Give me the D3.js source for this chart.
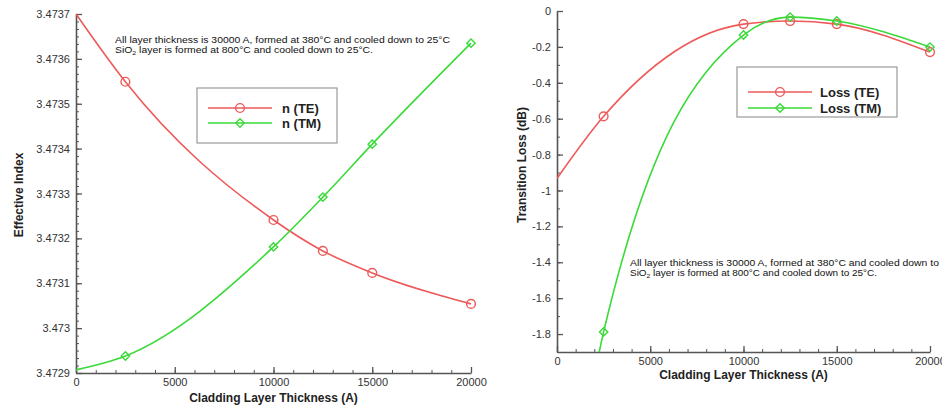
<!DOCTYPE html>
<html>
<head>
<meta charset="utf-8">
<script src="https://cdn.jsdelivr.net/npm/d3@7"></script>
<style>
  body { margin: 0; background: #fff; }
  svg { display: block; font-family: "Liberation Sans", Arial, sans-serif; }
  .tick text { fill: #333; font-size: 11px; }
  .axis path, .axis line { stroke: #555; }
  .title { font-weight: bold; font-size: 12px; fill: #222; }
  .legend text { font-weight: bold; font-size: 13px; fill: #222; }
  .note { font-size: 9px; fill: #111; }
</style>
</head>
<body>
<div id="graph"></div>
<script>
const svgw = 942
const svgh = 406
const red = '#ee5a5a'
const green = '#3ada3a'

// cladding thickness (A)
const thickness = [0, 2500, 10000, 12500, 15000, 20000]

// left panel: effective index
const nTE = [3.47370, 3.473549, 3.473241, 3.473172, 3.473123, 3.473054]
const nTM = [3.472907, 3.472938, 3.473181, 3.473292, 3.473410, 3.473635]

// right panel: transition loss (dB)
const lossTE = [-0.933, -0.587, -0.073, -0.056, -0.073, -0.229]
const lossTM = [-3.5, -1.788, -0.134, -0.034, -0.056, -0.201]

const markerAt = [2500, 10000, 12500, 15000, 20000]

const leftYTicks = [3.4729, 3.473, 3.4731, 3.4732, 3.4733, 3.4734, 3.4735, 3.4736, 3.4737]
const rightYTicks = [0, -0.2, -0.4, -0.6, -0.8, -1, -1.2, -1.4, -1.6, -1.8]
const xTicks = [0, 5000, 10000, 15000, 20000]

const noteLine1 = 'All layer thickness is 30000 A, formed at 380°C and cooled down to 25°C'

const svg = d3.select('#graph')
    .append('svg')
    .attr('width', svgw)
    .attr('height', svgh)

const defs = svg.append('defs')
defs.append('clipPath').attr('id', 'clipR')
    .append('rect').attr('x', 557).attr('y', 0).attr('width', 385).attr('height', 352)

function drawAxes(xScale, yScale, yTicks, yMinorStep, yFmt, xLabelY) {
    const yr = yScale.domain()
    const minorY = d3.range(Math.round((yr[1] - yr[0]) / yMinorStep) + 1).map(i => yr[0] + i * yMinorStep)
    const minorX = d3.range(0, 20001, 1000)

    svg.append('g').attr('class', 'axis')
        .attr('transform', `translate(${xScale(0)},0)`)
        .call(d3.axisLeft(yScale).tickValues(minorY).tickSize(-3).tickSizeOuter(0).tickFormat(''))
        .select('.domain').remove()
    const ya = svg.append('g').attr('class', 'axis')
        .attr('transform', `translate(${xScale(0)},0)`)
        .call(d3.axisLeft(yScale).tickValues(yTicks).tickSize(-6).tickSizeOuter(0).tickPadding(6).tickFormat(yFmt))
    ya.select('.domain').attr('stroke-width', 1.6)
    ya.selectAll('.tick line').attr('stroke-width', 1.3)

    const y0 = yScale(yr[0])
    svg.append('g').attr('class', 'axis')
        .attr('transform', `translate(0,${y0})`)
        .call(d3.axisBottom(xScale).tickValues(minorX).tickSize(-3).tickSizeOuter(0).tickFormat(''))
        .select('.domain').remove()
    const xa = svg.append('g').attr('class', 'axis')
        .attr('transform', `translate(0,${y0})`)
        .call(d3.axisBottom(xScale).tickValues(xTicks).tickSize(-6).tickSizeOuter(0).tickPadding(4).tickFormat(d3.format('d')))
    xa.select('.domain').attr('stroke-width', 1.6)
    xa.selectAll('.tick line').attr('stroke-width', 1.3)
    xa.selectAll('.tick text').attr('y', 5)

    svg.append('text').attr('class', 'title')
        .attr('x', (xScale(0) + xScale(20000)) / 2)
        .attr('y', xLabelY)
        .attr('text-anchor', 'middle')
        .text('Cladding Layer Thickness (A)')
}

function drawSeries(g, xScale, yScale, values, color, shape) {
    const pts = thickness.map((t, i) => [t, values[i]])
    const line = d3.line()
        .x(d => xScale(d[0]))
        .y(d => yScale(d[1]))
        .curve(d3.curveMonotoneX)
    g.append('path')
        .attr('d', line(pts))
        .attr('fill', 'none')
        .attr('stroke', color)
        .attr('stroke-width', 1.6)
    const sym = shape === 'circle' ? d3.symbolCircle : d3.symbolDiamond2
    const size = shape === 'circle' ? 60 : 45
    g.selectAll(null)
        .data(pts.filter(d => markerAt.includes(d[0])))
        .enter()
        .append('path')
        .attr('transform', d => `translate(${xScale(d[0])},${yScale(d[1])})`)
        .attr('d', d3.symbol(sym, size))
        .attr('fill', 'none')
        .attr('stroke', color)
        .attr('stroke-width', 1.4)
}

function drawLegend(x, y, w, h, labels, textX, rowY, lineX0, lineX1) {
    const g = svg.append('g').attr('class', 'legend')
    g.append('rect').attr('x', x).attr('y', y).attr('width', w).attr('height', h)
        .attr('fill', '#fff').attr('stroke', '#999').attr('stroke-width', 1.2)
    const items = [[red, d3.symbolCircle, 60], [green, d3.symbolDiamond2, 45]]
    labels.forEach((lab, i) => {
        const yy = rowY[i]
        g.append('line').attr('x1', lineX0).attr('x2', lineX1).attr('y1', yy).attr('y2', yy)
            .attr('stroke', items[i][0]).attr('stroke-width', 1.6)
        g.append('path').attr('transform', `translate(${(lineX0 + lineX1) / 2},${yy})`)
            .attr('d', d3.symbol(items[i][1], items[i][2]))
            .attr('fill', 'none').attr('stroke', items[i][0]).attr('stroke-width', 1.4)
        g.append('text').attr('x', textX).attr('y', yy + 5).text(lab)
    })
}

function drawNote(x, y, w2) {
    svg.append('text').attr('class', 'note').attr('x', x).attr('y', y)
        .attr('textLength', 335).attr('lengthAdjust', 'spacingAndGlyphs').text(noteLine1)
    const t2 = svg.append('text').attr('class', 'note').attr('x', x).attr('y', y + 10)
        .attr('textLength', w2).attr('lengthAdjust', 'spacingAndGlyphs')
    t2.append('tspan').text('SiO')
    t2.append('tspan').attr('font-size', 6).attr('dy', 2).text('2')
    t2.append('tspan').attr('dy', -2).text(' layer is formed at 800°C  and cooled down to 25°C.')
}

// ---- left panel
const xL = d3.scaleLinear().domain([0, 20000]).range([76, 471])
const yL = d3.scaleLinear().domain([3.4729, 3.4737]).range([373, 14])

drawAxes(xL, yL, leftYTicks, 0.0001 / 6, d => String(+d.toFixed(4)), 402)
drawNote(115, 43, 258)
const gL = svg.append('g')
drawSeries(gL, xL, yL, nTE, red, 'circle')
drawSeries(gL, xL, yL, nTM, green, 'diamond')
drawLegend(197, 88, 140, 55, ['n (TE)', 'n (TM)'], 282, [108, 123], 208, 272)

svg.append('text').attr('class', 'title')
    .attr('transform', 'translate(23,195) rotate(-90)')
    .attr('text-anchor', 'middle')
    .text('Effective Index')

// ---- right panel
const xR = d3.scaleLinear().domain([0, 20000]).range([557, 930])
const yR = d3.scaleLinear().domain([-1.9, 0]).range([352, 11])

drawAxes(xR, yR, rightYTicks, 0.1, d => String(+d.toFixed(1)), 379)
drawNote(630, 266, 247)
const gR = svg.append('g').attr('clip-path', 'url(#clipR)')
drawSeries(gR, xR, yR, lossTE, red, 'circle')
drawSeries(gR, xR, yR, lossTM, green, 'diamond')
drawLegend(737, 67, 160, 50, ['Loss (TE)', 'Loss (TM)'], 820, [92, 108], 748, 812)

svg.append('text').attr('class', 'title')
    .attr('transform', 'translate(526,165) rotate(-90)')
    .attr('text-anchor', 'middle')
    .text('Transition Loss (dB)')
</script>
</body>
</html>
